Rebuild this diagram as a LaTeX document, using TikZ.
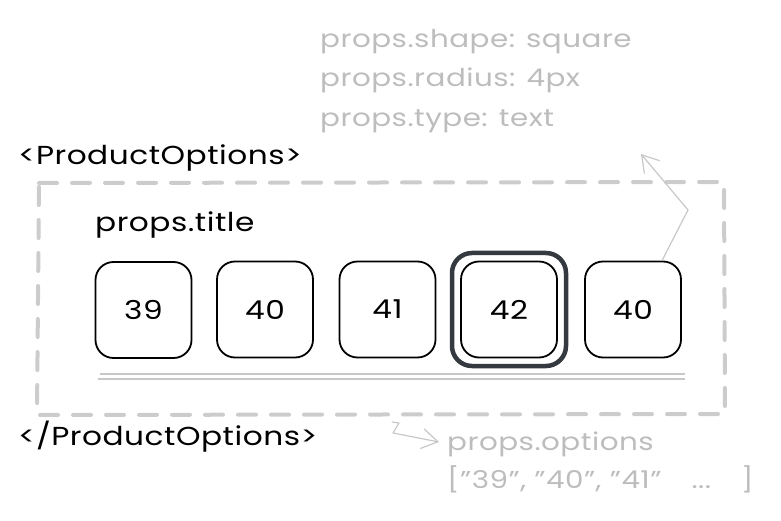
\documentclass[tikz,border=0pt]{standalone}
\usepackage{fontspec}
\setmainfont[FakeStretch=1.2, LetterSpace=2]{Poppins}
\usetikzlibrary{arrows.meta,calc}
\definecolor{txtgray}{HTML}{BDBDBD}
\definecolor{dashgray}{HTML}{CCCCCC}
\definecolor{linegray}{HTML}{C8C8C8}
\definecolor{darkring}{HTML}{343A40}
\begin{document}
\begin{tikzpicture}[x=1pt,y=-1pt,
  hand/.style={font=\fontsize{26}{32}\selectfont, inner sep=0pt},
  graytext/.style={font=\fontsize{24.5}{30}\selectfont, inner sep=0pt, text=txtgray, anchor=base west},
  blacktext/.style={hand, text=black, anchor=base west},
  sizebox/.style={draw=black, line width=1.8pt, rounded corners=18pt, minimum width=96pt, minimum height=96pt, hand},
  framebox/.style={draw=dashgray, line width=4pt, dash pattern=on 18pt off 15pt, line cap=round},
  noteline/.style={draw=linegray, line width=1.2pt},
  notearrow/.style={draw=linegray, line width=1.2pt, -{Straight Barb[length=16pt,width=20pt]}, line join=round}
]
\useasboundingbox (0,0) rectangle (781,521);

% annotation text at top
\node[graytext] (shape) at (320,48) {props.shape: square};
\node[graytext] (radius) at (320,87) {props.radius: 4px};
\node[graytext] (type) at (320,127) {props.type: text};

% component tags
\node[blacktext] (open) at (18,165) {<ProductOptions>};
\node[blacktext] (close) at (18,445) {</ProductOptions>};

% dashed frame
\draw[framebox] (39,183) -- (724,182) -- (725,414) -- (37,415) -- cycle;

% title
\node[blacktext] (title) at (95,232) {props.title};

% size boxes
\node[sizebox] (b1) at (143.5,310) {39};
\node[sizebox] (b2) at (265,309.5) {40};
\node[sizebox] (b3) at (387.5,309.5) {41};
\node[sizebox] (b4) at (509,309.5) {42};
\node[sizebox] (b5) at (633,309.5) {40};
\draw[draw=darkring, line width=4.5pt, rounded corners=20pt] (452,253) rectangle (566,366);

% double line underneath
\draw[noteline] (100,374) -- (685,374);
\draw[noteline] (98,379) -- (685,379);

% arrow from last box up to annotation
\coordinate (tipA) at (641,154);
\coordinate (elbowA) at (688,210);
\draw[notearrow] ($(b5.north)+(29,0)$) -- (elbowA) -- (tipA);

% options annotation
\node[graytext] (opts) at (447,450) {props.options};
\node[graytext] (optvals) at (447,488) {[\symbol{34}39\symbol{34}, \symbol{34}40\symbol{34}, \symbol{34}41\symbol{34}\hspace{30pt}...\hspace{30pt}]};
\coordinate (startB) at (392,422);
\draw[notearrow] (startB) -- (399,423) -- (393,433) -- ($(opts.base west)+(-8,-8)$);
\end{tikzpicture}
\end{document}
